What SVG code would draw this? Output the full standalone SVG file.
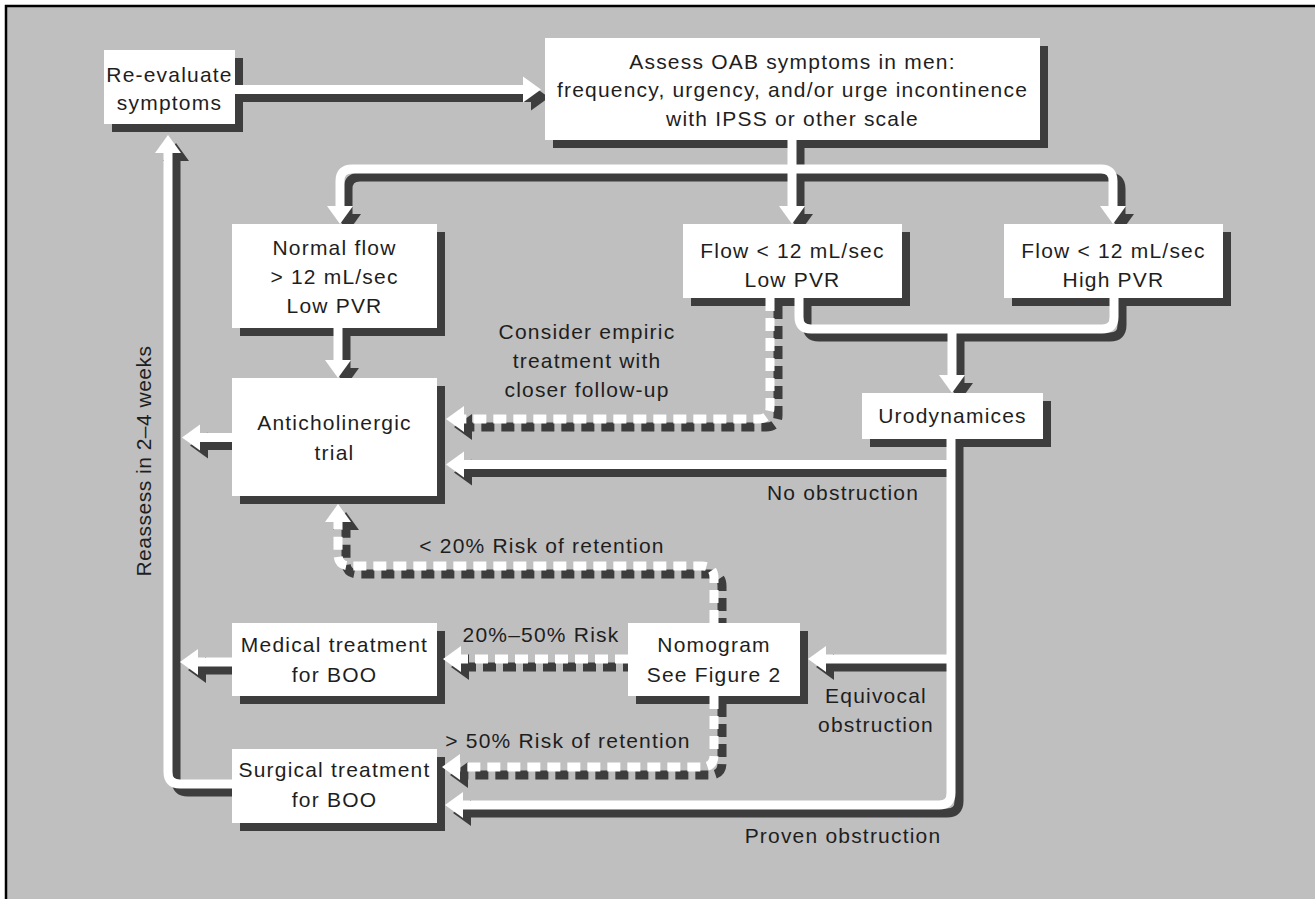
<svg xmlns="http://www.w3.org/2000/svg" width="1315" height="899" viewBox="0 0 1315 899">
<style>
.frame{fill:#bfbfbf;stroke:#000;stroke-width:2.5}
.face{fill:#fff}
.nsh{fill:#3d3d3d}
.ln{fill:none;stroke-width:9;stroke-linecap:butt;stroke-linejoin:round}
.sh .ln{stroke:#3d3d3d}
.wh .ln{stroke:#fff}
.dash{stroke-dasharray:13 7}
.sh .arr{marker-end:url(#ahD)}
.wh .arr{marker-end:url(#ahW)}
text{font-family:"Liberation Sans",Arial,sans-serif;font-size:21px;letter-spacing:1.2px;fill:#1e1e1e;text-anchor:middle}
text.rot{letter-spacing:0.5px}
</style>
<defs>
<marker id="ahW" markerUnits="userSpaceOnUse" markerWidth="20" markerHeight="26" refX="0" refY="13" orient="auto" overflow="visible"><path d="M0,0 L18,13 L0,26 Z" fill="#fff"/></marker>
<marker id="ahD" markerUnits="userSpaceOnUse" markerWidth="20" markerHeight="26" refX="0" refY="13" orient="auto" overflow="visible"><path d="M0,0 L18,13 L0,26 Z" fill="#3d3d3d"/></marker>
</defs>
<rect x="0" y="0" width="1315" height="899" fill="#fff"/>
<rect class="frame" x="6" y="6" width="1330" height="910"/>

<g id="node-shadows" transform="translate(8,8)">
<rect class="nsh" x="104" y="50" width="131" height="74"/>
<rect class="nsh" x="545" y="38" width="495" height="102"/>
<rect class="nsh" x="232" y="224" width="205" height="104"/>
<rect class="nsh" x="683" y="224" width="219" height="74"/>
<rect class="nsh" x="1004" y="224" width="219" height="74"/>
<rect class="nsh" x="862" y="393" width="181" height="46"/>
<rect class="nsh" x="232" y="378" width="205" height="118"/>
<rect class="nsh" x="232" y="623" width="205" height="73"/>
<rect class="nsh" x="628" y="623" width="172" height="73"/>
<rect class="nsh" x="232" y="749" width="205" height="74"/>
</g>

<g id="connectors">
<g class="sh" transform="translate(8,8)">
<path class="ln arr" d="M235,89.5 H523"/>
<path class="ln arr" d="M792,140 V206"/>
<path class="ln arr" d="M792,169 H352 Q340,169 340,181 V206"/>
<path class="ln arr" d="M792,169 H1101 Q1113,169 1113,181 V206"/>
<path class="ln arr" d="M338,328 V360"/>
<path class="ln" d="M799,298 V317 Q799,329 811,329 H1102 Q1114,329 1114,317 V298"/>
<path class="ln arr" d="M952,329 V375"/>
<path class="ln arr" d="M951,439 V793 Q951,805 939,805 H463"/>
<path class="ln arr" d="M951,464.5 H464"/>
<path class="ln arr" d="M951,659 H826"/>
<path class="ln arr" d="M232,437.5 H200"/>
<path class="ln arr" d="M232,662 H198"/>
<path class="ln arr" d="M232,784 H180 Q168,784 168,772 V153"/>
<path class="ln dash arr" d="M770,298 V407 Q770,419 758,419 H464"/>
<path class="ln dash arr" d="M714,623 V578 Q714,566 702,566 H350 Q338,566 338,554 V522"/>
<path class="ln dash arr" d="M628,659 H461"/>
<path class="ln dash arr" d="M714,696 V755 Q714,767 702,767 H460"/>
</g>
<g class="wh">
<path class="ln arr" d="M235,89.5 H523"/>
<path class="ln arr" d="M792,140 V206"/>
<path class="ln arr" d="M792,169 H352 Q340,169 340,181 V206"/>
<path class="ln arr" d="M792,169 H1101 Q1113,169 1113,181 V206"/>
<path class="ln arr" d="M338,328 V360"/>
<path class="ln" d="M799,298 V317 Q799,329 811,329 H1102 Q1114,329 1114,317 V298"/>
<path class="ln arr" d="M952,329 V375"/>
<path class="ln arr" d="M951,439 V793 Q951,805 939,805 H463"/>
<path class="ln arr" d="M951,464.5 H464"/>
<path class="ln arr" d="M951,659 H826"/>
<path class="ln arr" d="M232,437.5 H200"/>
<path class="ln arr" d="M232,662 H198"/>
<path class="ln arr" d="M232,784 H180 Q168,784 168,772 V153"/>
<path class="ln dash arr" d="M770,298 V407 Q770,419 758,419 H464"/>
<path class="ln dash arr" d="M714,623 V578 Q714,566 702,566 H350 Q338,566 338,554 V522"/>
<path class="ln dash arr" d="M628,659 H461"/>
<path class="ln dash arr" d="M714,696 V755 Q714,767 702,767 H460"/>
</g>
<g id="connector-labels">
<text x="587" y="339">Consider empiric</text>
<text x="587" y="368">treatment with</text>
<text x="587" y="397">closer follow-up</text>
<text x="843" y="500">No obstruction</text>
<text x="542" y="553">&lt; 20% Risk of retention</text>
<text x="541" y="642">20%–50% Risk</text>
<text x="568" y="748">&gt; 50% Risk of retention</text>
<text x="876" y="703">Equivocal</text>
<text x="876" y="732">obstruction</text>
<text x="843" y="843">Proven obstruction</text>
<text class="rot" transform="translate(151,461) rotate(-90)" x="0" y="0">Reassess in 2–4 weeks</text>
</g>
</g>

<g id="n-reevaluate">
<rect class="face" x="104" y="50" width="131" height="74"/>
<text x="169.5" y="82">Re-evaluate</text>
<text x="169.5" y="110">symptoms</text>
</g>
<g id="n-assess">
<rect class="face" x="545" y="38" width="495" height="102"/>
<text x="792.5" y="69">Assess OAB symptoms in men:</text>
<text x="792.5" y="97">frequency, urgency, and/or urge incontinence</text>
<text x="792.5" y="126">with IPSS or other scale</text>
</g>
<g id="n-normal">
<rect class="face" x="232" y="224" width="205" height="104"/>
<text x="334.5" y="255">Normal flow</text>
<text x="334.5" y="284">&gt; 12 mL/sec</text>
<text x="334.5" y="313">Low PVR</text>
</g>
<g id="n-flowlow">
<rect class="face" x="683" y="224" width="219" height="74"/>
<text x="792.5" y="258">Flow &lt; 12 mL/sec</text>
<text x="792.5" y="287">Low PVR</text>
</g>
<g id="n-flowhigh">
<rect class="face" x="1004" y="224" width="219" height="74"/>
<text x="1113.5" y="258">Flow &lt; 12 mL/sec</text>
<text x="1113.5" y="287">High PVR</text>
</g>
<g id="n-urodynamics">
<rect class="face" x="862" y="393" width="181" height="46"/>
<text x="952.5" y="423">Urodynamices</text>
</g>
<g id="n-anticholinergic">
<rect class="face" x="232" y="378" width="205" height="118"/>
<text x="334.5" y="430">Anticholinergic</text>
<text x="334.5" y="460">trial</text>
</g>
<g id="n-medical">
<rect class="face" x="232" y="623" width="205" height="73"/>
<text x="334.5" y="652">Medical treatment</text>
<text x="334.5" y="682">for BOO</text>
</g>
<g id="n-nomogram">
<rect class="face" x="628" y="623" width="172" height="73"/>
<text x="714" y="652">Nomogram</text>
<text x="714" y="682">See Figure 2</text>
</g>
<g id="n-surgical">
<rect class="face" x="232" y="749" width="205" height="74"/>
<text x="334.5" y="777">Surgical treatment</text>
<text x="334.5" y="807">for BOO</text>
</g>
</svg>
